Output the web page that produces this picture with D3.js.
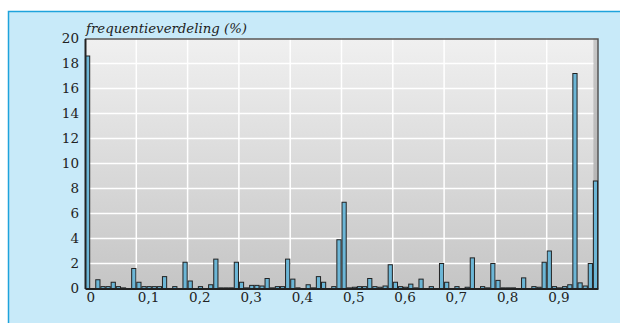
<!DOCTYPE html>
<html>
<head>
<meta charset="utf-8">
<script src="https://cdn.jsdelivr.net/npm/d3@7"></script>
<style>
  html, body { margin: 0; padding: 0; background: #fff; }
  svg { display: block; }
</style>
</head>
<body>
<div id="chart"></div>
<script>
// bin starts (fraction) and frequencies (%)
const binStart = [
  0.00, 0.01, 0.02, 0.03, 0.04, 0.05, 0.06, 0.07, 0.08, 0.09,
  0.10, 0.11, 0.12, 0.13, 0.14, 0.15, 0.16, 0.17, 0.18, 0.19,
  0.20, 0.21, 0.22, 0.23, 0.24, 0.25, 0.26, 0.27, 0.28, 0.29,
  0.30, 0.31, 0.32, 0.33, 0.34, 0.35, 0.36, 0.37, 0.38, 0.39,
  0.40, 0.41, 0.42, 0.43, 0.44, 0.45, 0.46, 0.47, 0.48, 0.49,
  0.50, 0.51, 0.52, 0.53, 0.54, 0.55, 0.56, 0.57, 0.58, 0.59,
  0.60, 0.61, 0.62, 0.63, 0.64, 0.65, 0.66, 0.67, 0.68, 0.69,
  0.70, 0.71, 0.72, 0.73, 0.74, 0.75, 0.76, 0.77, 0.78, 0.79,
  0.80, 0.81, 0.82, 0.83, 0.84, 0.85, 0.86, 0.87, 0.88, 0.89,
  0.90, 0.91, 0.92, 0.93, 0.94, 0.95, 0.96, 0.97, 0.98, 0.99
];
const freq = [
  18.6, 0, 0.7, 0.15, 0.15, 0.5, 0.15, 0.05, 0, 1.6,
  0.5, 0.15, 0.15, 0.15, 0.15, 0.95, 0, 0.15, 0, 2.1,
  0.6, 0, 0.15, 0, 0.3, 2.35, 0.05, 0.05, 0.05, 2.1,
  0.5, 0.05, 0.25, 0.25, 0.2, 0.8, 0.05, 0.15, 0.15, 2.35,
  0.75, 0.05, 0, 0.3, 0.05, 0.95, 0.5, 0, 0.15, 3.9,
  6.9, 0.05, 0.1, 0.15, 0.15, 0.8, 0.15, 0.1, 0.2, 1.9,
  0.5, 0.15, 0.1, 0.35, 0.05, 0.75, 0, 0.15, 0, 2.0,
  0.5, 0, 0.15, 0, 0.1, 2.45, 0, 0.15, 0.05, 2.0,
  0.65, 0.05, 0.05, 0.05, 0, 0.85, 0, 0.15, 0.1, 2.1,
  3.0, 0.15, 0.05, 0.15, 0.3, 17.2, 0.45, 0.2, 2.0, 8.6
];
const xTicks = [0, 0.1, 0.2, 0.3, 0.4, 0.5, 0.6, 0.7, 0.8, 0.9];
const yTicks = [0, 2, 4, 6, 8, 10, 12, 14, 16, 18, 20];
const title = "frequentieverdeling (%)";

const W = 620, H = 323;
const margin = { top: 38.5, right: 22, bottom: 34.5, left: 85 };
const width = W - margin.left - margin.right;
const height = H - margin.top - margin.bottom;

const svg = d3.select("#chart").append("svg")
  .attr("width", W)
  .attr("height", H);

// light blue panel with blue border on top/left
svg.append("rect")
  .attr("x", 8.5).attr("y", 11.5)
  .attr("width", W).attr("height", H)
  .attr("fill", "#c8eaf9")
  .attr("stroke", "#1ea3dc")
  .attr("stroke-width", 1.5);

const defs = svg.append("defs");
const grad = defs.append("linearGradient").attr("id", "bg").attr("x1", 0).attr("y1", 0).attr("x2", 0).attr("y2", 1);
grad.append("stop").attr("offset", "0%").attr("stop-color", "#f0f0f0");
grad.append("stop").attr("offset", "100%").attr("stop-color", "#c5c5c5");
const grad2 = defs.append("linearGradient").attr("id", "side").attr("x1", 0).attr("y1", 0).attr("x2", 0).attr("y2", 1);
grad2.append("stop").attr("offset", "0%").attr("stop-color", "#c8c8c8");
grad2.append("stop").attr("offset", "100%").attr("stop-color", "#a9a9a9");

const g = svg.append("g").attr("transform", `translate(${margin.left},${margin.top})`);

const x = d3.scaleLinear().domain([0, 1]).range([0, width]);
const y = d3.scaleLinear().domain([0, 20]).range([height, 0]);

g.append("rect")
  .attr("width", width).attr("height", height)
  .attr("fill", "url(#bg)");
g.append("rect")
  .attr("x", x(0.99) + 0.5).attr("width", width - x(0.99) - 0.5).attr("height", height)
  .attr("fill", "url(#side)");

// grid
g.append("g").selectAll("line")
  .data(yTicks.filter(d => d > 0 && d < 20))
  .enter().append("line")
  .attr("x1", 0).attr("x2", x(0.99) + 0.5)
  .attr("y1", d => y(d)).attr("y2", d => y(d))
  .attr("stroke", "#fff").attr("stroke-width", 1.5);
g.append("g").selectAll("line")
  .data(xTicks.filter(d => d > 0))
  .enter().append("line")
  .attr("x1", d => x(d)).attr("x2", d => x(d))
  .attr("y1", 0).attr("y2", height)
  .attr("stroke", "#fff").attr("stroke-width", 1.5);

// frame top / right
g.append("path")
  .attr("d", `M0,0.5H${width}V${height}`)
  .attr("fill", "none").attr("stroke", "#555").attr("stroke-width", 1.5);

// bars
const bw = x(0.01) * 0.82;
g.selectAll(".bar")
  .data(freq)
  .enter().append("rect")
  .attr("class", "bar")
  .attr("x", (d, i) => x(binStart[i]) + 0.5)
  .attr("y", d => y(d))
  .attr("width", bw)
  .attr("height", d => height - y(d))
  .attr("fill", "#6cb6d6")
  .attr("stroke", "#222")
  .attr("stroke-width", 1);

// axes
const xAxis = g.append("g")
  .attr("transform", `translate(0,${height})`)
  .call(d3.axisBottom(x).tickValues(xTicks).tickSize(0).tickPadding(4)
    .tickFormat(d => d3.format(".1~f")(d).replace(".", ",")));
xAxis.select(".domain").attr("stroke", "#222").attr("stroke-width", 2);
xAxis.selectAll("text")
  .attr("text-anchor", "start")
  .attr("dx", 1)
  .style("font-family", "'DejaVu Serif', serif")
  .style("font-size", "13.5px")
  .attr("fill", "#222");

const yAxis = g.append("g")
  .call(d3.axisLeft(y).tickValues(yTicks).tickSize(0).tickPadding(6));
yAxis.select(".domain").attr("stroke", "#222").attr("stroke-width", 2);
yAxis.selectAll("text")
  .style("font-family", "'DejaVu Serif', serif")
  .style("font-size", "13.5px")
  .attr("fill", "#222");

g.append("text")
  .attr("x", 1).attr("y", -6)
  .style("font-family", "'DejaVu Serif', serif")
  .style("font-style", "italic")
  .style("font-size", "13.3px")
  .attr("fill", "#222")
  .text(title);
</script>
</body>
</html>
